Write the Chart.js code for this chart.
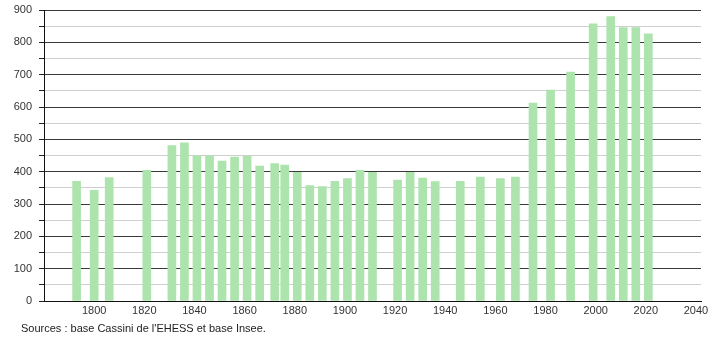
<!DOCTYPE html>
<html lang="fr">
<head>
    <meta charset="UTF-8">
    <title>Évolution de la population</title>
    <script src="https://cdn.jsdelivr.net/npm/chart.js"></script>
    <style>
        body {
            margin: 0;
            background: #fff;
        }
        #wrap {
            position: relative;
            width: 710px;
            height: 340px;
        }
        #sources {
            position: absolute;
            left: 21px;
            top: 322px;
            font-family: "Liberation Sans", Arial, sans-serif;
            font-size: 11px;
            color: #222;
        }
    </style>
</head>
<body>

    <div id="wrap">
        <canvas id="popChart" width="710" height="340"></canvas>
        <div id="sources">Sources : base Cassini de l'EHESS et base Insee.</div>
    </div>

    <script>
        // census years and population
        const years = [1793, 1800, 1806, 1821, 1831, 1836, 1841, 1846, 1851, 1856,
                       1861, 1866, 1872, 1876, 1881, 1886, 1891, 1896, 1901, 1906,
                       1911, 1921, 1926, 1931, 1936, 1946, 1954, 1962, 1968, 1975,
                       1982, 1990, 1999, 2006, 2011, 2016, 2021];
        const population = [370, 342, 382, 404, 481, 489, 449, 449, 433, 445,
                            448, 417, 425, 420, 398, 357, 354, 370, 379, 404,
                            398, 374, 398, 380, 369, 370, 383, 379, 383, 612,
                            652, 708, 857, 880, 846, 846, 826];
        const xTicks = [1800, 1820, 1840, 1860, 1880, 1900, 1920, 1940, 1960, 1980, 2000, 2020, 2040];

        const ctx = document.getElementById('popChart').getContext('2d');

        new Chart(ctx, {
            type: 'bar',
            data: {
                datasets: [{
                    data: years.map((y, i) => ({ x: y, y: population[i] })),
                    backgroundColor: '#ade3ad',
                    borderWidth: 0,
                    barThickness: 8
                }]
            },
            options: {
                responsive: false,
                animation: false,
                layout: {
                    padding: { left: 0, right: 9, top: 10, bottom: 23 }
                },
                plugins: {
                    legend: { display: false },
                    tooltip: { enabled: false }
                },
                scales: {
                    x: {
                        type: 'linear',
                        min: 1780,
                        max: 2042,
                        offset: false,
                        afterBuildTicks: function (scale) {
                            scale.ticks = xTicks.map(v => ({ value: v }));
                        },
                        afterFit: function (scale) {
                            scale.height = 16;
                            scale.paddingLeft = 0;
                            scale.paddingRight = 0;
                        },
                        grid: { display: false, drawTicks: false, offset: false },
                        border: { display: true, color: '#111', width: 1 },
                        ticks: {
                            padding: 3,
                            maxRotation: 0,
                            autoSkip: false,
                            color: '#333',
                            font: { family: 'Liberation Sans', size: 11 },
                            callback: v => String(v)
                        }
                    },
                    y: {
                        min: 0,
                        max: 900,
                        afterFit: function (scale) {
                            scale.width = 44;
                            scale.paddingTop = 0;
                            scale.paddingBottom = 0;
                        },
                        ticks: {
                            stepSize: 50,
                            padding: 7,
                            autoSkip: false,
                            color: '#333',
                            font: { family: 'Liberation Sans', size: 11 },
                            callback: v => (v % 100 === 0 ? String(v) : '')
                        },
                        grid: {
                            color: c => (c.tick && c.tick.value % 100 === 0 ? '#3a3a3a' : '#cfcfcf'),
                            tickColor: '#222',
                            tickLength: 5
                        },
                        border: { display: true, color: '#111', width: 1 }
                    }
                }
            }
        });
    </script>
</body>
</html>
